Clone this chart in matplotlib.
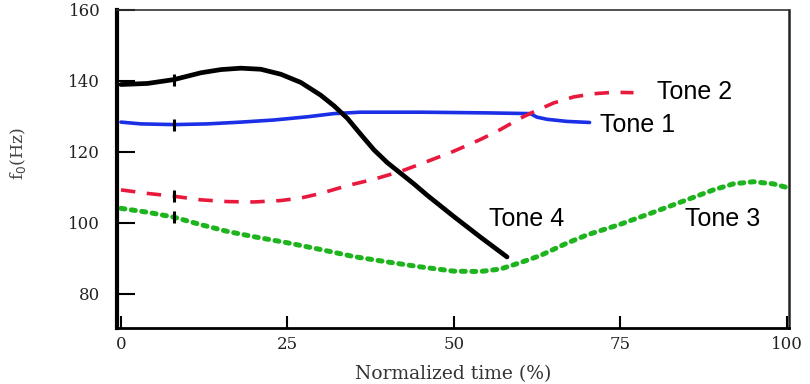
import matplotlib
matplotlib.use("Agg")
import matplotlib.pyplot as plt
import numpy as np

# Data (x: normalized time %, y: f0 Hz)
tone1_x = [0, 3, 8, 13, 18, 23, 28, 32, 36, 45, 55, 61.5, 62.5, 64, 67, 70.4]
tone1_y = [128.4, 127.9, 127.7, 127.9, 128.4, 129.0, 129.9, 130.8, 131.2, 131.2, 131.0, 130.8, 129.8, 129.2, 128.6, 128.3]

tone2_x = [0, 4, 8, 12, 16, 20, 24, 27, 30, 34, 38, 42, 46, 50, 54, 57, 60, 62, 65, 68, 71, 74, 77]
tone2_y = [109.3, 108.3, 107.5, 106.5, 106.0, 105.9, 106.3, 107.0, 108.3, 110.5, 112.3, 114.5, 117.3,
           120.2, 123.5, 126.3, 129.5, 131.3, 133.8, 135.5, 136.4, 136.8, 136.7]

tone3_x = [0, 4, 8, 12, 16, 20, 25, 30, 35, 40, 45, 50, 54, 57, 60, 63, 67, 70, 75, 80, 85, 89, 92, 95, 98, 100]
tone3_y = [104.1, 103.0, 101.6, 99.5, 97.6, 96.1, 94.4, 92.5, 90.5, 89.0, 87.6, 86.4, 86.3, 87.0, 88.8,
           90.8, 94.3, 96.6, 99.6, 103.0, 106.5, 109.3, 111.0, 111.6, 111.0, 110.0]

tone4_x = [0, 4, 8, 12, 15, 18, 21, 24, 27, 30, 32, 34, 36, 38, 40, 42, 44, 46, 48, 50, 52, 54, 56, 58]
tone4_y = [139.0, 139.3, 140.4, 142.3, 143.2, 143.6, 143.3, 141.9, 139.6, 136.0, 133.0, 129.5, 125.0,
           120.6, 117.0, 114.0, 111.0, 107.8, 104.8, 101.8, 98.9, 96.0, 93.2, 90.4]

xticks = [0, 25, 50, 75, 100]
yticks = [80, 100, 120, 140, 160]

labels = ["Tone 1", "Tone 2", "Tone 3", "Tone 4"]
label_pos = [(71.9, 127.6), (80.5, 137.0), (84.7, 101.2), (55.3, 101.2)]

fig = plt.figure(figsize=(8.1, 3.84), dpi=100)
ax = fig.add_axes([0.1444, 0.146, 0.830, 0.828])

ax.plot(tone1_x, tone1_y, color="#1a2fe6", lw=2.6, solid_capstyle="round", solid_joinstyle="round")
ax.plot(tone2_x, tone2_y, color="#e8193c", lw=2.6, ls=(0, (4, 3.2)), dash_capstyle="butt")
ax.plot(tone3_x, tone3_y, color="#1db41d", lw=3.6, ls=(0, (0.8, 1.3)), dash_capstyle="round")
ax.plot(tone4_x, tone4_y, color="black", lw=3.4, solid_capstyle="round", solid_joinstyle="round")

# small tick marks on the curves near x = 8
for xs, ys in [(tone1_x, tone1_y), (tone2_x, tone2_y), (tone3_x, tone3_y), (tone4_x, tone4_y)]:
    yv = np.interp(8, xs, ys)
    ax.plot([8], [yv], marker="|", ms=8, mew=2.2, color="black")

for lab, (lx, ly) in zip(labels, label_pos):
    ax.text(lx, ly, lab, fontsize=18, family="Liberation Sans", va="center", ha="left")

ax.set_xlim(-0.6, 100.4)
ax.set_ylim(70.4, 160)
ax.set_xticks(xticks)
ax.set_yticks(yticks)
ax.tick_params(axis="both", direction="in", width=1.5, labelsize=12)
ax.tick_params(axis="x", length=9, pad=6)
ax.tick_params(axis="y", length=13, pad=12)
for lab in ax.get_xticklabels() + ax.get_yticklabels():
    lab.set_family("DejaVu Serif")
    lab.set_color("#222222")

ax.spines["left"].set_linewidth(3)
ax.spines["bottom"].set_linewidth(2)
ax.spines["top"].set_linewidth(1.2)
ax.spines["right"].set_linewidth(1.8)
ax.spines["top"].set_color("#333333")
ax.spines["right"].set_color("#222222")

ax.set_xlabel("Normalized time (%)", family="DejaVu Serif", fontsize=13.5, color="#333333", va="center")
ax.xaxis.set_label_coords(0.5, -0.145)
ax.set_ylabel("f$_0$(Hz)", family="DejaVu Serif", fontsize=12.5, color="#444444", va="center")
ax.yaxis.set_label_coords(-0.147, 0.55)

fig.savefig("out.png", dpi=100)
